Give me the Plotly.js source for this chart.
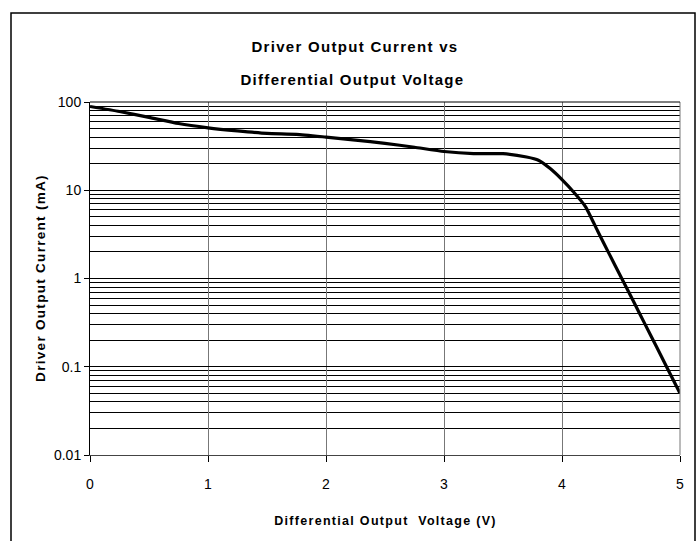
<!DOCTYPE html>
<html>
<head>
<meta charset="utf-8">
<script src="https://cdn.plot.ly/plotly-3.0.1.min.js"></script>
<style>
  html, body { margin: 0; padding: 0; background: #fff; }
  #chart { width: 699px; height: 541px; }
</style>
</head>
<body>
<div id="chart"></div>
<script>
// Data
const voltage = [0, 0.25, 0.5, 0.75, 1, 1.25, 1.5, 1.75, 2, 2.25, 2.5, 2.75, 3, 3.25, 3.5, 3.7, 3.8, 3.9, 4, 4.1, 4.2, 4.3, 4.4, 4.5, 4.6, 4.7, 4.8, 4.9, 5];
const current = [89, 78, 67, 57, 51, 47, 44, 43, 40, 37, 34, 30.7, 27.5, 26, 26, 23.8, 21.9, 17.6, 13.2, 9.5, 6.5, 3.5, 1.9, 1.04, 0.57, 0.31, 0.17, 0.092, 0.05];

const xTickVals = [0, 1, 2, 3, 4, 5];
const xTickText = ['0', '1', '2', '3', '4', '5'];
const yTickVals = [100, 10, 1, 0.1, 0.01];
const yTickText = ['100', '10', '1', '0.1', '0.01'];

const titleLine1 = 'Driver Output Current vs';
const titleLine2 = 'Differential Output Voltage';
const xTitle = 'Differential Output  Voltage (V)';
const yTitle = 'Driver Output Current (mA)';

// minor gridline positions (2..9 within each decade)
const minorVals = [];
[0.01, 0.1, 1, 10].forEach(function (d) {
  [2, 3, 4, 5, 6, 7, 8, 9].forEach(function (m) { minorVals.push(m * d); });
});

const sans = '"Liberation Sans", Arial, sans-serif';

// plot area in pixels
const L = 90, R = 19, T = 102, B = 86, W = 699 - L - R, H = 541 - T - B;
function px(x) { return (x - L) / W; }
function py(y) { return (541 - B - y) / H; }

const trace = {
  x: voltage,
  y: current,
  type: 'scatter',
  mode: 'lines',
  line: { color: '#000', width: 3.2, shape: 'spline', smoothing: 0.5 },
  hoverinfo: 'skip'
};

const layout = {
  width: 699,
  height: 541,
  margin: { l: L, r: R, t: T, b: B },
  paper_bgcolor: '#fff',
  plot_bgcolor: '#fff',
  showlegend: false,
  font: { family: sans, color: '#000', size: 14 },
  xaxis: {
    range: [0, 5],
    tickmode: 'array',
    tickvals: xTickVals,
    ticktext: xTickText,
    ticks: 'outside',
    ticklen: 6,
    tickcolor: '#000',
    tickwidth: 1,
    ticklabelstandoff: 10,
    showgrid: true,
    gridcolor: '#777',
    gridwidth: 1,
    showline: true,
    linecolor: '#444',
    linewidth: 1,
    zeroline: false,
    tickfont: { family: sans, size: 14, color: '#000' }
  },
  yaxis: {
    type: 'log',
    range: [-2, 2],
    tickmode: 'array',
    tickvals: yTickVals,
    ticktext: yTickText,
    ticks: 'outside',
    ticklen: 5,
    tickcolor: '#000',
    tickwidth: 1,
    showgrid: true,
    gridcolor: '#000',
    gridwidth: 1,
    showline: true,
    linecolor: '#000',
    linewidth: 1,
    zeroline: false,
    tickfont: { family: sans, size: 14, color: '#000' },
    minor: {
      tickmode: 'array',
      tickvals: minorVals,
      showgrid: true,
      gridcolor: '#000',
      gridwidth: 1,
      ticks: ''
    }
  },
  annotations: [
    { text: titleLine1, xref: 'paper', yref: 'paper', x: px(355), y: py(46), xanchor: 'center', yanchor: 'middle', showarrow: false,
      font: { family: sans, size: 15, weight: 'bold', color: '#000' } },
    { text: titleLine2, xref: 'paper', yref: 'paper', x: px(352), y: py(79), xanchor: 'center', yanchor: 'middle', showarrow: false,
      font: { family: sans, size: 15, weight: 'bold', color: '#000' } },
    { text: xTitle, xref: 'paper', yref: 'paper', x: px(385), y: py(521), xanchor: 'center', yanchor: 'middle', showarrow: false,
      font: { family: sans, size: 12.5, weight: 'bold', color: '#000' } },
    { text: yTitle, xref: 'paper', yref: 'paper', x: px(40), y: py(278), xanchor: 'center', yanchor: 'middle', showarrow: false, textangle: -90,
      font: { family: sans, size: 13.5, weight: 'bold', color: '#000' } }
  ],
  shapes: [
    { type: 'line', xref: 'paper', yref: 'paper', x0: 1, x1: 1, y0: 0, y1: 1, line: { color: '#777', width: 1 } },
    { type: 'line', xref: 'paper', yref: 'paper', x0: 0, x1: 1, y0: 1, y1: 1, line: { color: '#000', width: 1 } },
    { type: 'path', xref: 'paper', yref: 'paper',
      path: 'M ' + px(11) + ' ' + py(560) + ' L ' + px(11) + ' ' + py(13) +
            ' L ' + px(695) + ' ' + py(13) + ' L ' + px(695) + ' ' + py(560),
      line: { color: '#000', width: 1.5 } }
  ]
};

Plotly.newPlot('chart', [trace], layout, { staticPlot: true, displayModeBar: false }).then(function () {
  document.querySelectorAll('.annotation-text').forEach(function (el) {
    el.style.letterSpacing = '1.3px';
  });
});
</script>
</body>
</html>
